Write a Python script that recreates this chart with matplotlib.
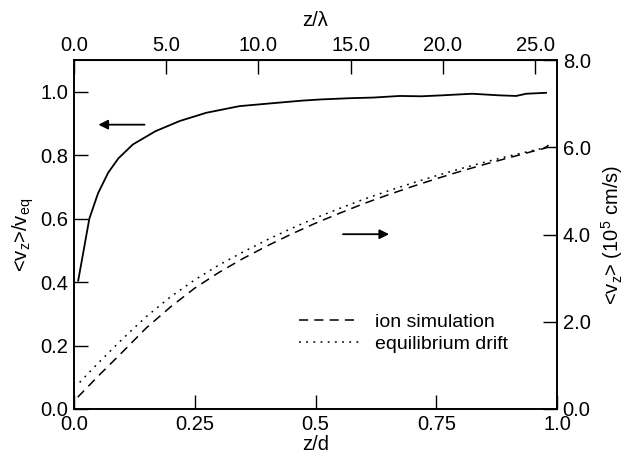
import matplotlib.pyplot as plt
import numpy as np

plt.rcParams['font.family'] = ['Liberation Sans', 'DejaVu Sans']
plt.rcParams['mathtext.fontset'] = 'custom'
plt.rcParams['mathtext.rm'] = 'Liberation Sans'
plt.rcParams['mathtext.it'] = 'Liberation Sans'
plt.rcParams['mathtext.bf'] = 'Liberation Sans'

# solid curve, left axis: <vz>/veq vs z/d
zd_ratio = [0.009, 0.032, 0.05, 0.071, 0.092, 0.122, 0.169, 0.219, 0.274, 0.343,
            0.41, 0.47, 0.51, 0.572, 0.62, 0.674, 0.72, 0.762, 0.824, 0.88,
            0.915, 0.936, 0.977]
v_ratio = [0.405, 0.60, 0.68, 0.745, 0.79, 0.834, 0.876, 0.908, 0.934, 0.955,
           0.964, 0.972, 0.976, 0.980, 0.982, 0.987, 0.986, 0.989, 0.994, 0.989,
           0.987, 0.994, 0.997]

# dashed curve, right axis: ion simulation (10^5 cm/s)
zd_ion = [0.008, 0.05, 0.10, 0.15, 0.20, 0.25, 0.30, 0.35, 0.40, 0.45, 0.50,
          0.55, 0.60, 0.65, 0.70, 0.75, 0.80, 0.85, 0.90, 0.95, 0.975, 0.985]
v_ion = [0.27, 0.75, 1.30, 1.86, 2.34, 2.77, 3.13, 3.45, 3.74, 4.01, 4.26,
         4.49, 4.71, 4.91, 5.10, 5.28, 5.45, 5.61, 5.76, 5.91, 5.98, 6.08]

# dotted curve, right axis: equilibrium drift
zd_eq = [0.012, 0.05, 0.10, 0.15, 0.20, 0.25, 0.30, 0.35, 0.40, 0.45, 0.50,
         0.55, 0.60, 0.65, 0.70, 0.75, 0.80, 0.85, 0.90, 0.95, 0.98]
v_eq = [0.61, 1.05, 1.60, 2.12, 2.57, 2.96, 3.30, 3.60, 3.88, 4.14, 4.38,
        4.60, 4.81, 5.00, 5.18, 5.35, 5.51, 5.66, 5.80, 5.93, 6.00]

bottom_ticks = [0.0, 0.25, 0.5, 0.75, 1.0]
bottom_labels = ['0.0', '0.25', '0.5', '0.75', '1.0']
left_ticks = [0.0, 0.2, 0.4, 0.6, 0.8, 1.0]
right_ticks = [0.0, 2.0, 4.0, 6.0, 8.0]
top_ticks = [0.0, 5.0, 10.0, 15.0, 20.0, 25.0]
lam_per_d = 26.2

fs = 14.5
fig = plt.figure(figsize=(6.26, 4.59), dpi=100)
ax = fig.add_axes([0.118, 0.109, 0.772, 0.760])

ax.plot(zd_ratio, v_ratio, 'k-', lw=1.3)
ax.set_xlim(0, 1.0)
ax.set_ylim(0, 1.1)
ax.set_xticks(bottom_ticks)
ax.set_xticklabels(bottom_labels)
ax.set_yticks(left_ticks)
ax.set_yticklabels(['%.1f' % t for t in left_ticks])
ax.set_xlabel('z/d', fontsize=fs, labelpad=1)
ax.set_ylabel(r'<v$_z$>/v$_{eq}$', fontsize=fs, labelpad=3)

ax2 = ax.twinx()
ax2.plot(zd_ion, v_ion, color='k', lw=1.1, linestyle=(0, (6, 4)), label='ion simulation')
ax2.plot(zd_eq, v_eq, color='k', lw=1.1, linestyle=(0, (1.2, 3.5)), label='equilibrium drift')
ax2.set_ylim(0, 8.0)
ax2.set_yticks(right_ticks)
ax2.set_yticklabels(['%.1f' % t for t in right_ticks])
ax2.set_ylabel(r'<v$_z$> (10$^5$ cm/s)', fontsize=fs, labelpad=6)

sec = ax.secondary_xaxis('top', functions=(lambda x: x * lam_per_d, lambda x: x / lam_per_d))
sec.set_xticks(top_ticks)
sec.set_xticklabels(['%.1f' % t for t in top_ticks])
sec.set_xlabel('z/λ', fontsize=fs, labelpad=7)

for a in (ax, ax2, sec):
    a.tick_params(direction='in', length=10, width=1.0, labelsize=fs, pad=4)
for a in (ax, ax2):
    for s in a.spines.values():
        s.set_linewidth(1.2)

leg = ax2.legend(loc='upper left', bbox_to_anchor=(0.43, 0.325), frameon=False,
                 fontsize=fs - 0.5, handlelength=3.1, handletextpad=0.8, labelspacing=0.25)

ax.annotate('', xy=(0.045, 0.815), xytext=(0.152, 0.815), xycoords='axes fraction',
            arrowprops=dict(arrowstyle='-|>', color='k', lw=1.3, mutation_scale=14))
ax.annotate('', xy=(0.658, 0.501), xytext=(0.551, 0.501), xycoords='axes fraction',
            arrowprops=dict(arrowstyle='-|>', color='k', lw=1.3, mutation_scale=14))

fig.savefig('out.png', dpi=100)
